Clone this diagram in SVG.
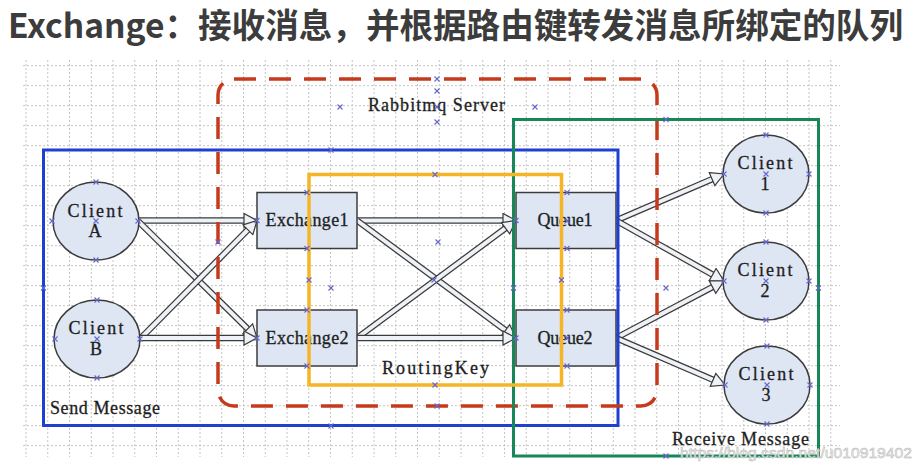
<svg xmlns="http://www.w3.org/2000/svg" width="922" height="468" viewBox="0 0 922 468">
<style>
.t{font-family:"Liberation Serif","DejaVu Serif",serif;font-size:18px;fill:#1e1e1e;stroke:#1e1e1e;stroke-width:0.3;text-anchor:middle}
.l{font-family:"Liberation Serif","DejaVu Serif",serif;font-size:18px;fill:#1e1e1e;stroke:#1e1e1e;stroke-width:0.3}
.node{fill:#dde6f2;stroke:#3c3c3c;stroke-width:1.5}
.so{fill:none;stroke:#3a3a3a;stroke-width:6.5}
.si{fill:none;stroke:#eef1f5;stroke-width:4;marker-end:url(#head)}
.grid{stroke:#c4c4c4;stroke-width:1;stroke-dasharray:2 2;fill:none}
.frame{fill:none}
</style>
<defs>
<marker id="head" viewBox="-1 -8 16 16" refX="0" refY="0" markerWidth="16" markerHeight="16" markerUnits="userSpaceOnUse" orient="auto">
<path d="M0,-7 L13,0 L0,7 Z" fill="#eef1f5" stroke="#3a3a3a" stroke-width="1.2"/>
</marker>
<g id="cx"><path d="M-2.5,-2.5 L2.5,2.5 M-2.5,2.5 L2.5,-2.5" stroke="#6666cc" stroke-width="1.1" fill="none"/></g>
</defs>
<rect width="922" height="468" fill="#ffffff"/>
<text x="8" y="38" font-family="'Noto Sans CJK SC','Noto Sans',sans-serif" font-size="34" font-weight="bold" fill="#3c3c3c" textLength="895" lengthAdjust="spacingAndGlyphs">Exchange：接收消息，并根据路由键转发消息所绑定的队列</text>
<g id="grid">
<path class="grid" d="M26 60V457M47.75 60V457M69.5 60V457M91.25 60V457M113 60V457M134.75 60V457M156.5 60V457M178.25 60V457M200 60V457M221.75 60V457M243.5 60V457M265.25 60V457M287 60V457M308.75 60V457M330.5 60V457M352.25 60V457M374 60V457M395.75 60V457M417.5 60V457M439.25 60V457M461 60V457M482.75 60V457M504.5 60V457M526.25 60V457M548 60V457M569.75 60V457M591.5 60V457M613.25 60V457M635 60V457M656.75 60V457M678.5 60V457M700.25 60V457M722 60V457M743.75 60V457M765.5 60V457M787.25 60V457M809 60V457M830.75 60V457"/>
<path class="grid" d="M23 65.7H840M23 85.7H840M23 105.7H840M23 125.7H840M23 145.7H840M23 165.7H840M23 185.7H840M23 205.7H840M23 225.7H840M23 245.7H840M23 265.7H840M23 285.7H840M23 305.7H840M23 325.7H840M23 345.7H840M23 365.7H840M23 385.7H840M23 405.7H840M23 425.7H840M23 445.7H840"/>
</g>
<g id="connectors">
<path class="so" d="M138,220.5 L244,220.5"/><path class="si" d="M138,220.5 L244,220.5"/>
<path class="so" d="M138,221 L247.73,328.89"/><path class="si" d="M138,221 L247.73,328.89"/>
<path class="so" d="M140,339 L247.87,229.75"/><path class="si" d="M140,339 L247.87,229.75"/>
<path class="so" d="M140,338 L244,338"/><path class="si" d="M140,338 L244,338"/>
<path class="so" d="M357,220.5 L503,220.5"/><path class="si" d="M357,220.5 L503,220.5"/>
<path class="so" d="M357,220.5 L505.55,330.27"/><path class="si" d="M357,220.5 L505.55,330.27"/>
<path class="so" d="M357,338 L505.55,228.23"/><path class="si" d="M357,338 L505.55,228.23"/>
<path class="so" d="M357,338 L503,338"/><path class="si" d="M357,338 L503,338"/>
<path class="so" d="M616,220.5 L712.06,179.14"/><path class="si" d="M616,220.5 L712.06,179.14"/>
<path class="so" d="M616,220.5 L712.66,274.65"/><path class="si" d="M616,220.5 L712.66,274.65"/>
<path class="so" d="M616,338 L712.5,287.07"/><path class="si" d="M616,338 L712.5,287.07"/>
<path class="so" d="M616,338 L713.06,379.85"/><path class="si" d="M616,338 L713.06,379.85"/>
</g>
<g id="clientA"><ellipse class="node" cx="96" cy="221" rx="43" ry="39"/><text class="t" x="95" y="216.5" textLength="55">Client</text><text class="t" x="95" y="237">A</text></g>
<g id="clientB"><ellipse class="node" cx="97" cy="339" rx="43" ry="39"/><text class="t" x="96" y="334" textLength="55">Client</text><text class="t" x="96" y="355">B</text></g>
<g id="exchange1"><rect class="node" x="257" y="192.5" width="100" height="56"/><text class="t" x="307" y="226" textLength="83">Exchange1</text></g>
<g id="exchange2"><rect class="node" x="257" y="310" width="100" height="56"/><text class="t" x="307" y="343.5" textLength="83">Exchange2</text></g>
<g id="queue1"><rect class="node" x="516" y="192.5" width="100" height="56"/><text class="t" x="565" y="226" textLength="55">Queue1</text></g>
<g id="queue2"><rect class="node" x="516" y="310" width="100" height="56"/><text class="t" x="565" y="343.5" textLength="55">Queue2</text></g>
<g id="client1"><ellipse class="node" cx="766" cy="174" rx="43" ry="39"/><text class="t" x="765" y="169" textLength="55">Client</text><text class="t" x="765" y="190">1</text></g>
<g id="client2"><ellipse class="node" cx="766" cy="281" rx="43" ry="39"/><text class="t" x="765" y="276" textLength="55">Client</text><text class="t" x="765" y="297">2</text></g>
<g id="client3"><ellipse class="node" cx="767" cy="385" rx="43" ry="39"/><text class="t" x="766" y="380" textLength="55">Client</text><text class="t" x="766" y="401">3</text></g>
<g id="sendMessage"><rect class="frame" x="43.5" y="150" width="574.5" height="275.5" stroke="#1f3fd0" stroke-width="3"/><text class="l" x="50" y="414" textLength="110">Send Message</text></g>
<g id="rabbitmqServer"><rect class="frame" x="218" y="79" width="439" height="327" rx="16" stroke="#c63a1c" stroke-width="3.5" stroke-dasharray="22 13"/><text class="l" x="368" y="111" textLength="137">Rabbitmq Server</text></g>
<g id="receiveMessage"><rect class="frame" x="513.5" y="119.5" width="305" height="336.5" stroke="#17875a" stroke-width="3"/><text class="l" x="672" y="445" textLength="137">Receive Message</text></g>
<g id="routingKey"><rect class="frame" x="309" y="174.5" width="252.5" height="210.5" stroke="#f6b525" stroke-width="3.5"/><text class="t" x="435.5" y="373.5" font-size="20" textLength="107">RoutingKey</text></g>
<g id="points">
<use href="#cx" x="96" y="182"/><use href="#cx" x="52" y="221"/><use href="#cx" x="96" y="221"/><use href="#cx" x="138" y="221"/><use href="#cx" x="96" y="260"/>
<use href="#cx" x="97" y="300"/><use href="#cx" x="55" y="339"/><use href="#cx" x="97" y="339"/><use href="#cx" x="140" y="339"/><use href="#cx" x="97" y="378"/>
<use href="#cx" x="766" y="135"/><use href="#cx" x="724" y="174"/><use href="#cx" x="766" y="174"/><use href="#cx" x="809" y="174"/><use href="#cx" x="766" y="213"/>
<use href="#cx" x="766" y="242"/><use href="#cx" x="724" y="281"/><use href="#cx" x="766" y="281"/><use href="#cx" x="809" y="281"/><use href="#cx" x="766" y="320"/>
<use href="#cx" x="767" y="346"/><use href="#cx" x="725" y="385"/><use href="#cx" x="767" y="385"/><use href="#cx" x="810" y="385"/><use href="#cx" x="767" y="424"/>
<use href="#cx" x="257" y="220.5"/><use href="#cx" x="257" y="338"/><use href="#cx" x="516" y="220.5"/><use href="#cx" x="516" y="338"/>
<use href="#cx" x="307" y="192.5"/><use href="#cx" x="307" y="248.5"/><use href="#cx" x="307" y="310"/><use href="#cx" x="307" y="366"/>
<use href="#cx" x="567" y="192.5"/><use href="#cx" x="567" y="248.5"/><use href="#cx" x="567" y="310"/><use href="#cx" x="567" y="366"/><use href="#cx" x="567" y="221"/><use href="#cx" x="567" y="338"/>
<use href="#cx" x="331" y="150"/><use href="#cx" x="43.5" y="288"/><use href="#cx" x="331" y="426"/><use href="#cx" x="618" y="288"/>
<use href="#cx" x="435" y="174.5"/><use href="#cx" x="435" y="385"/><use href="#cx" x="309" y="280"/><use href="#cx" x="561.5" y="280"/>
<use href="#cx" x="437" y="79"/><use href="#cx" x="218" y="242"/><use href="#cx" x="437" y="406"/>
<use href="#cx" x="666" y="119.5"/><use href="#cx" x="513.5" y="288"/><use href="#cx" x="818.5" y="288"/><use href="#cx" x="666" y="456"/>
<use href="#cx" x="437" y="91"/><use href="#cx" x="437" y="107"/><use href="#cx" x="437" y="122"/><use href="#cx" x="340" y="107"/><use href="#cx" x="535" y="107"/>
<use href="#cx" x="438" y="242"/><use href="#cx" x="331" y="288"/><use href="#cx" x="434" y="280"/><use href="#cx" x="666" y="288"/>
</g>
<text x="680" y="458" font-family="'Liberation Sans',Arial,sans-serif" font-size="15" fill="#f2f2f2" stroke="#b4b4b4" stroke-width="0.5" textLength="232" lengthAdjust="spacingAndGlyphs">https://blog.csdn.net/u010919402</text>
</svg>
